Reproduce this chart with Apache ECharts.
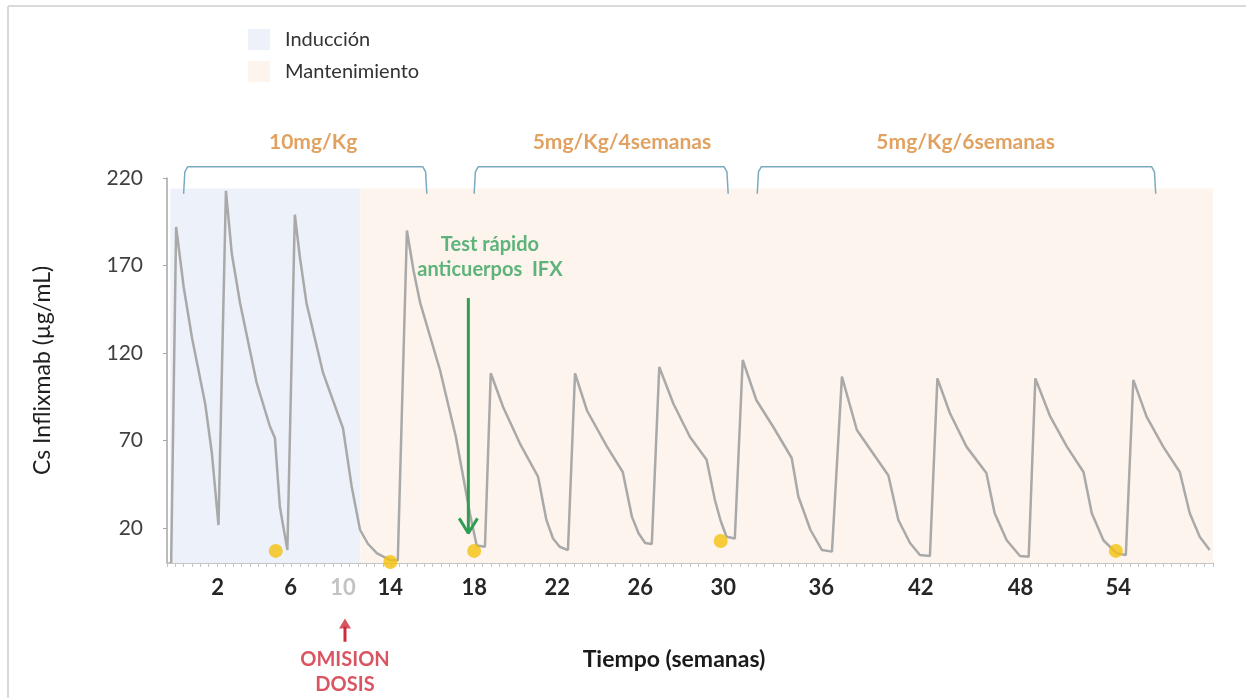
<!DOCTYPE html>
<html><head><meta charset="utf-8">
<script src="https://cdn.jsdelivr.net/npm/echarts@6/dist/echarts.min.js"></script>
<style>html,body{margin:0;padding:0;background:#fff}#c{width:1246px;height:698px}</style>
</head><body><div id="c"></div>
<script>
// Schematic time axis (not linear in weeks): positions in axis units
const tickPositions = [6.1, 14.9, 21.2, 26.9, 37.0, 47.0, 57.0, 67.0, 78.8, 90.8, 102.8, 114.6];
const tickLabels = ['2', '6', '10', '14', '18', '22', '26', '30', '36', '42', '48', '54'];
const omittedLabel = '10';
const yTicks = [20, 70, 120, 170, 220];

// Infliximab concentration curve (µg/mL)
const curveX = [0.5, 1.1, 2.0, 3.0, 4.6, 5.4, 6.2,
  7.1, 7.8, 8.8, 10.8, 12.4, 13.0, 13.6, 14.5,
  15.4, 16.0, 16.8, 18.8, 21.2, 22.25, 23.25, 24.2, 25.3, 26.9, 27.8,
  28.9, 29.7, 30.5, 32.9, 34.8, 36.5, 37.3, 38.3,
  39.0, 40.5, 42.5, 44.7, 45.7, 46.5, 47.3, 48.3,
  49.15, 50.6, 53.0, 54.9, 56.0, 56.8, 57.6, 58.4,
  59.3, 61.0, 63.0, 65.0, 66.0, 66.7, 67.4, 68.4,
  69.35, 71.0, 73.0, 75.25, 76.05, 77.5, 78.9, 80.1,
  81.3, 83.1, 85.0, 86.9, 88.1, 89.5, 90.7, 91.9,
  92.8, 94.3, 96.3, 98.7, 99.7, 101.15, 102.75, 103.8,
  104.6, 106.4, 108.4, 110.4, 111.4, 112.8, 114.4, 115.5,
  116.4, 118.0, 120.0, 122.0, 123.2, 124.4, 125.6];
const curveY = [0, 192, 158, 129, 91, 63, 21.7,
  212.7, 177, 148.6, 103, 78, 71.4, 32, 7.4,
  199, 175, 148.6, 108.6, 77, 43.6, 19, 11, 5.5, 1.7, 1.5,
  190, 167, 148.6, 110, 72, 28, 10, 9.3,
  108.4, 89, 68.4, 49.3, 24.6, 14, 9.3, 7.4,
  108.4, 87, 66.5, 52, 26.5, 17, 11.4, 10.9,
  112, 91, 72, 59, 36, 24, 15, 14,
  116, 93, 78, 60, 38, 19, 7.4, 6.5,
  106.5, 76, 63, 50, 24.6, 11.4, 4.6, 4,
  105.5, 85.7, 66.5, 51.4, 28.4, 13, 4, 3.6,
  105.5, 83.6, 66.5, 52, 28.4, 13, 5.5, 4.6,
  104.6, 83.6, 66.5, 52, 28.4, 15, 7.4];

// Trough level measurements (yellow dots)
const dotX = [13.1, 26.9, 37.0, 66.7, 114.3];
const dotY = [6.9, 0.6, 6.9, 12.6, 6.9];

// Phases
const phaseNames = ['Inducción', 'Mantenimiento'];
const phaseStart = [0.4, 23.3];
const phaseEnd = [23.3, 126];
const phaseTop = 214;

// Dosing brackets
const bracketStart = [2.0, 37.0, 71.1];
const bracketEnd = [31.3, 67.6, 119.1];
const bracketLabels = ['10mg/Kg', '5mg/Kg/4semanas', '5mg/Kg/6semanas'];
const bracketLabelX = [17.6, 54.8, 96.2];
const bracketTop = 226.5, bracketFoot = 211, bracketLabelY = 240.6;

// Annotations
const testNote = { text: 'Test rápido\nanticuerpos  IFX', x: 38.9, y: 174.6, arrowX: 36.3, arrowFrom: 151.4, arrowTo: 17, headHalf: 1.1, headY: 25.5 };
const omitNote = { text: 'OMISION\nDOSIS', x: 21.44, y: -62.3, arrowFrom: -45, arrowTo: -36.3 };

const FONT = 'Lato, "Open Sans", sans-serif';
const chart = echarts.init(document.getElementById('c'), null, { renderer: 'canvas' });

const phaseColors = ['#edf1f9', '#fdf4ee'];
const series = [];
phaseNames.forEach((n, i) => {
  series.push({
    name: n, type: 'line', data: [], color: phaseColors[i],
    itemStyle: { color: phaseColors[i] }, lineStyle: { color: phaseColors[i] },
    markArea: { silent: true, itemStyle: { color: phaseColors[i] },
      data: [[{ xAxis: phaseStart[i], yAxis: 0 }, { xAxis: phaseEnd[i], yAxis: phaseTop }]] },
    z: 0
  });
});
series.push({
  name: 'curve', type: 'line', data: curveX.map((x, i) => [x, curveY[i]]),
  symbol: 'none', lineStyle: { color: '#a9a9a9', width: 2.5 }, z: 3, clip: false
});
bracketStart.forEach((s, i) => {
  const e = bracketEnd[i];
  series.push({
    name: 'bracket' + i, type: 'line', symbol: 'none', clip: false, z: 3,
    lineStyle: { color: '#7aaac0', width: 1.5 },
    data: [[s, bracketFoot], [s + 0.15, bracketTop - 3], [s + 0.5, bracketTop], [e - 0.5, bracketTop], [e - 0.15, bracketTop - 3], [e, bracketFoot]]
  });
});
series.push({
  name: 'bracketLabels', type: 'scatter', symbolSize: 0, clip: false, z: 4,
  data: bracketLabels.map((t, i) => ({ value: [bracketLabelX[i], bracketLabelY], name: t })),
  label: { show: true, position: 'inside', formatter: p => p.name, color: '#d98b3a', fontSize: 21, fontWeight: 'bold', fontFamily: FONT }
});
// Green test arrow
series.push({
  name: 'testArrow', type: 'line', symbol: 'none', clip: false, z: 4,
  lineStyle: { color: '#2f9e52', width: 3 },
  data: [[testNote.arrowX, testNote.arrowFrom], [testNote.arrowX, testNote.arrowTo]]
});
series.push({
  name: 'testHead', type: 'line', symbol: 'none', clip: false, z: 4,
  lineStyle: { color: '#2f9e52', width: 3 },
  data: [[testNote.arrowX - testNote.headHalf, testNote.headY], [testNote.arrowX, testNote.arrowTo], [testNote.arrowX + testNote.headHalf, testNote.headY]]
});
// Omitted-dose red arrow
series.push({
  name: 'omitArrow', type: 'line', symbol: 'none', clip: false, z: 4,
  lineStyle: { color: '#d02a3a', width: 3 },
  data: [[omitNote.x, omitNote.arrowFrom], [omitNote.x, omitNote.arrowTo]]
});
series.push({
  name: 'omitHead', type: 'scatter', symbol: 'triangle', symbolSize: [12, 10], clip: false, z: 4,
  itemStyle: { color: '#d02a3a' },
  data: [[omitNote.x, omitNote.arrowTo + 1.8]]
});
series.push({
  name: 'notes', type: 'scatter', symbolSize: 0, clip: false, z: 4,
  data: [
    { value: [testNote.x, testNote.y], name: testNote.text, label: { color: '#35a35c' } },
    { value: [omitNote.x, omitNote.y], name: omitNote.text, label: { color: '#cf2b3b' } }
  ],
  label: { show: true, position: 'inside', formatter: p => p.name, fontSize: 20, fontWeight: 'bold', lineHeight: 25, fontFamily: FONT }
});
series.push({
  name: 'dots', type: 'scatter', symbolSize: 14, clip: false, z: 5,
  itemStyle: { color: '#f4c20d' },
  data: dotX.map((x, i) => [x, dotY[i]])
});

function labelFor(v) {
  let best = 0;
  tickPositions.forEach((p, i) => { if (Math.abs(p - v) < Math.abs(tickPositions[best] - v)) best = i; });
  return tickLabels[best];
}

chart.setOption({
  animation: false,
  textStyle: { fontFamily: FONT },
  legend: {
    data: phaseNames, orient: 'vertical', left: 248, top: 29, padding: 0, icon: 'rect',
    itemWidth: 22, itemHeight: 21, itemGap: 11, selectedMode: false,
    textStyle: { fontSize: 20, color: '#333', fontFamily: FONT, padding: [0, 0, 0, 10] }
  },
  grid: { left: 167, right: 33, top: 178, bottom: 135 },
  xAxis: {
    type: 'value', min: 0, max: 126, interval: 1,
    splitLine: { show: false },
    axisLine: { show: true, lineStyle: { color: '#b3b3b3', width: 1.5 } },
    axisTick: { show: true, length: 4, lineStyle: { color: '#c4c4c4' } },
    axisLabel: {
      customValues: tickPositions, margin: 14,
      formatter: v => labelFor(v),
      color: v => labelFor(v) === omittedLabel ? '#c3c3c3' : '#262626',
      fontSize: 22, fontWeight: 'bold', fontFamily: FONT
    },
    name: 'Tiempo (semanas)', nameLocation: 'middle', nameGap: 85,
    nameTextStyle: { fontSize: 23, fontWeight: 'bold', color: '#1a1a1a', fontFamily: FONT, padding: [0, 32, 0, 0] }
  },
  yAxis: {
    type: 'value', min: 0, max: 220,
    splitLine: { show: false },
    axisLine: { show: true, lineStyle: { color: '#a6a6a6', width: 1.5 } },
    axisTick: { show: true, customValues: yTicks, length: 4, lineStyle: { color: '#a6a6a6' } },
    axisLabel: { customValues: yTicks, margin: 24, fontSize: 21, color: '#404040', fontFamily: FONT },
    name: 'Cs Inflixmab (µg/mL)', nameLocation: 'middle', nameGap: 113,
    nameTextStyle: { fontSize: 23, color: '#1f1f1f', fontFamily: FONT }
  },
  graphic: [
    { type: 'line', shape: { x1: 8, y1: 6, x2: 1246, y2: 6 }, style: { stroke: '#d9d9d9', lineWidth: 2 }, silent: true },
    { type: 'line', shape: { x1: 8, y1: 6, x2: 8, y2: 698 }, style: { stroke: '#d9d9d9', lineWidth: 2 }, silent: true }
  ],
  series: series
});
</script></body></html>
